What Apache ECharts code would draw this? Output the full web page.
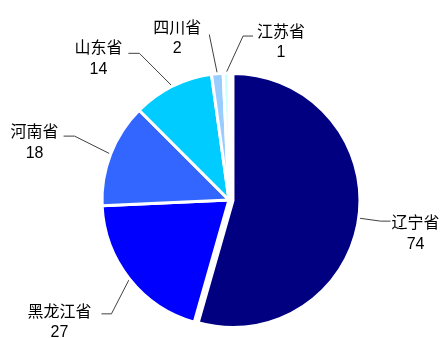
<!DOCTYPE html>
<html>
<head>
<meta charset="utf-8">
<script src="https://cdn.jsdelivr.net/npm/echarts@6/dist/echarts.min.js"></script>
<style>
  html, body { margin: 0; padding: 0; background: #fff; }
  #chart { width: 442px; height: 338px; }
</style>
</head>
<body>
<div id="chart"></div>
<script>
// Province counts
const provinces = ['辽宁省', '黑龙江省', '河南省', '山东省', '四川省', '江苏省'];
const counts = [74, 27, 18, 14, 2, 1];

// Slice fills, in province order
const sliceColors = ['#000080', '#0000FF', '#3366FF', '#00CCFF', '#99CCFF', '#CCFFFF'];

// Leader line shape for each label: elbow offset from the slice edge,
// horizontal tail, side of the label, gap to the text and vertical shift.
// The pulled-out slice (index 0) keeps the default pie placement.
const leaders = [
  null,
  { ex: -18, ey: 35,  tail: -10, side: -1, gap: 10, dy: 8 },
  { ex: -36, ey: -18, tail: -11, side: -1, gap: 5,  dy: 6 },
  { ex: -33, ey: -33, tail: -11, side: -1, gap: 6,  dy: 5 },
  { ex: -8,  ey: -39, tail: 0,   side: -1, gap: 8,  dy: 3 },
  { ex: 17,  ey: -37, tail: 10,  side: 1,  gap: 4,  dy: 6 }
];

const cnText = { fontFamily: 'Noto Sans CJK SC', fontSize: 16, color: '#000', lineHeight: 22 };
const numText = { fontFamily: 'Liberation Sans', fontSize: 16, color: '#000', lineHeight: 22 };

const chart = echarts.init(document.getElementById('chart'), null, { renderer: 'canvas' });

const seriesData = provinces.map((name, i) => {
  const item = {
    name: name,
    value: counts[i],
    itemStyle: { color: sliceColors[i] }
  };
  if (i === 0) {
    item.selected = true;
    item.label = {
      padding: [24, 0, 0, 0],
      distanceToLabelLine: 1,
      rich: {
        a: Object.assign({}, cnText),
        n: Object.assign({ width: 48, align: 'center' }, numText)
      }
    };
    item.labelLine = { length: 22, length2: 10 };
  }
  return item;
});

chart.setOption({
  animation: false,
  backgroundColor: '#ffffff',
  series: [{
    type: 'pie',
    center: [229, 200],
    radius: 127,
    startAngle: 90,
    clockwise: true,
    selectedMode: 'single',
    selectedOffset: 4,
    avoidLabelOverlap: false,
    silent: true,
    itemStyle: { borderColor: '#ffffff', borderWidth: 3 },
    label: {
      show: true,
      position: 'outside',
      formatter: '{a|{b}}\n{n|{c}}',
      rich: { a: cnText, n: numText }
    },
    labelLine: {
      show: true,
      length: 20,
      length2: 10,
      lineStyle: { color: '#404040', width: 1 }
    },
    labelLayout: function (p) {
      const cfg = leaders[p.dataIndex];
      const pts = p.labelLinePoints;
      if (!cfg || !pts) { return {}; }
      const edge = [pts[0][0], pts[0][1]];
      const elbow = [edge[0] + cfg.ex, edge[1] + cfg.ey];
      const end = [elbow[0] + cfg.tail, elbow[1]];
      const w = p.labelRect.width;
      return {
        x: end[0] + cfg.side * (cfg.gap + w / 2),
        y: end[1] + cfg.dy,
        align: 'center',
        verticalAlign: 'middle',
        labelLinePoints: [edge, elbow, end]
      };
    },
    data: seriesData
  }]
});
</script>
</body>
</html>
